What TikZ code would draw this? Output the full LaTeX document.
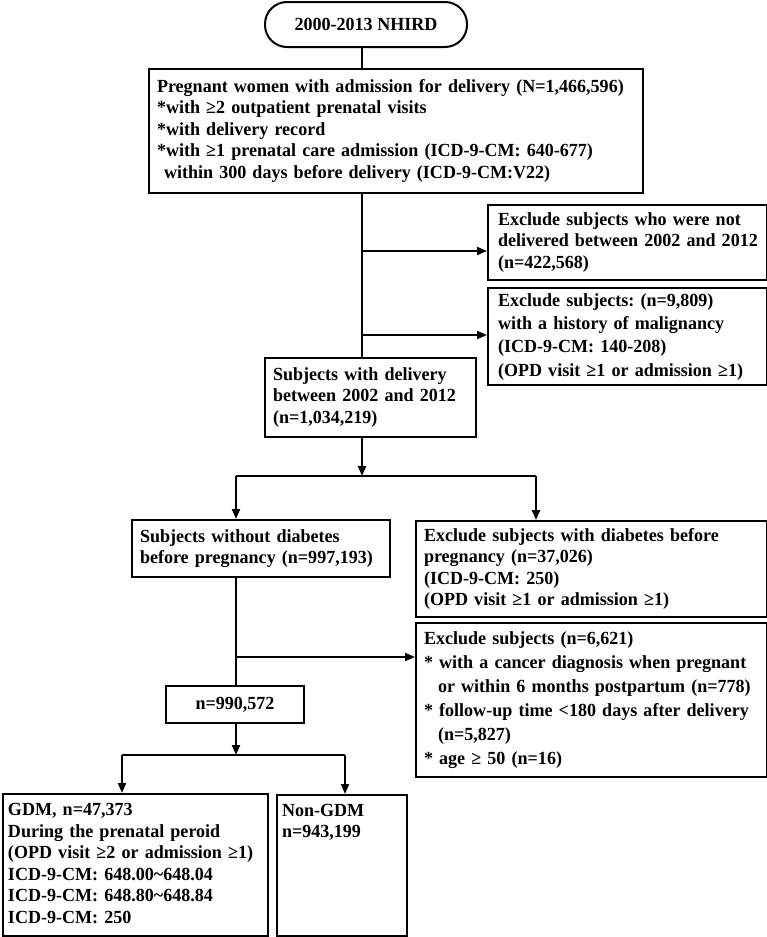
\documentclass[tikz,border=0pt]{standalone}
\usepackage{fontspec}
\setmainfont{Liberation Serif}[FakeStretch=0.975]
\usetikzlibrary{arrows.meta}
\begin{document}
\begin{tikzpicture}[x=1pt,y=-1pt,
  every node/.style={font=\fontsize{18.5}{21.5}\selectfont\bfseries\frenchspacing},
  box/.style={draw, line width=2pt, anchor=north west, inner ysep=0pt, inner xsep=8pt, align=left},
  sp24/.style={font=\fontsize{18.5}{24}\selectfont\bfseries\frenchspacing},
  sp23/.style={font=\fontsize{18.5}{23.3}\selectfont\bfseries\frenchspacing},
  arr/.style={line width=2pt, -{Triangle[length=10pt,width=8pt]}},
  ln/.style={line width=2pt}
]
\useasboundingbox (0,0) rectangle (767,937);

\node[draw, line width=2pt, rounded corners=22pt, minimum width=202pt, minimum height=45pt, inner sep=0pt] (term) at (366,24.5) {2000-2013 NHIRD};

\node[box, minimum width=494pt, minimum height=124pt, text width=478pt] (b1) at (148,68)
{\begin{tabular}{@{}l@{}}Pregnant women with admission for delivery (N=1,466,596)\\
{*}with ≥2 outpatient prenatal visits\\
{*}with delivery record\\
{*}with ≥1 prenatal care admission (ICD-9-CM: 640-677)\\
\hspace*{7pt}within 300 days before delivery (ICD-9-CM:V22)\end{tabular}};

\node[box, minimum width=279pt, minimum height=75pt, text width=259pt, inner xsep=10pt] (ex1) at (487,204)
{\begin{tabular}{@{}l@{}}Exclude subjects who were not\\
delivered between 2002 and 2012\\
(n=422,568)\end{tabular}};

\node[box, sp23, minimum width=279pt, minimum height=97pt, text width=259pt, inner xsep=10pt] (ex2) at (487,287)
{\begin{tabular}{@{}l@{}}Exclude subjects: (n=9,809)\\
with a history of malignancy\\
(ICD-9-CM: 140-208)\\
(OPD visit ≥1 or admission ≥1)\end{tabular}};

\node[box, minimum width=211pt, minimum height=79pt, text width=195pt] (b3) at (264,357)
{\begin{tabular}{@{}l@{}}Subjects with delivery\\
between 2002 and 2012\\
(n=1,034,219)\end{tabular}};

\node[box, minimum width=258pt, minimum height=57pt, text width=242pt] (b4) at (131,519)
{\begin{tabular}{@{}l@{}}Subjects without diabetes\\
before pregnancy (n=997,193)\end{tabular}};

\node[box, minimum width=351pt, minimum height=96pt, text width=335pt] (ex3) at (415,520)
{\begin{tabular}{@{}l@{}}Exclude subjects with diabetes before\\
pregnancy (n=37,026)\\
(ICD-9-CM: 250)\\
(OPD visit ≥1 or admission ≥1)\end{tabular}};

\node[box, sp24, minimum width=351pt, minimum height=154pt, text width=335pt] (ex4) at (415,622)
{\begin{tabular}{@{}l@{}}Exclude subjects (n=6,621)\\
{*} with a cancer diagnosis when pregnant\\
\hspace*{14pt}or within 6 months postpartum (n=778)\\
{*} follow-up time <180 days after delivery\\
\hspace*{14pt}(n=5,827)\\
{*} age ≥ 50 (n=16)\end{tabular}};

\node[draw, line width=2pt, minimum width=138pt, minimum height=37pt, inner sep=0pt] (b5) at (235,704.5) {n=990,572};

\node[box, minimum width=265pt, minimum height=142pt, text width=255pt, inner xsep=5pt] (gdm) at (2,793)
{\begin{tabular}{@{}l@{}}GDM, n=47,373\\
During the prenatal peroid\\
(OPD visit ≥2 or admission ≥1)\\
ICD-9-CM: 648.00\textasciitilde 648.04\\
ICD-9-CM: 648.80\textasciitilde 648.84\\
ICD-9-CM: 250\end{tabular}};

\node[box, minimum width=130pt, minimum height=141pt, text width=120pt, inner xsep=5pt] (ngdm) at (276,794)
{\begin{tabular}{@{}l@{}}Non-GDM\\
n=943,199\\
\mbox{}\\ \mbox{}\\ \mbox{}\\ \mbox{}\end{tabular}};

% connectors
\coordinate (top) at (362,47);
\draw[ln] (term.south -| top) -- (top |- b1.north);
\draw[ln] (top |- b1.south) -- (top |- b3.north);
\coordinate (j1) at (362,251);
\coordinate (j2) at (362,335);
\draw[arr] (j1) -- (j1 -| ex1.west);
\draw[arr] (j2) -- (j2 -| ex2.west);

\coordinate (sp1) at (362,476);
\coordinate (sp1l) at (236,476);
\coordinate (sp1r) at (536,476);
\draw[arr] (sp1 |- b3.south) -- (sp1);
\draw[ln] (sp1l) -- (sp1r);
\draw[arr] (sp1l) -- (sp1l |- b4.north);
\draw[arr] (sp1r) -- (sp1r |- ex3.north);

\coordinate (v2) at (236,576);
\draw[ln] (v2 |- b4.south) -- (v2 |- b5.north);
\coordinate (j3) at (236,657);
\draw[arr] (j3) -- (j3 -| ex4.west);

\coordinate (sp2) at (236,755);
\coordinate (sp2l) at (122,755);
\coordinate (sp2r) at (345,755);
\draw[arr] (sp2 |- b5.south) -- (sp2);
\draw[ln] (sp2l) -- (sp2r);
\draw[arr] (sp2l) -- (sp2l |- gdm.north);
\draw[arr] (sp2r) -- (sp2r |- ngdm.north);
\end{tikzpicture}
\end{document}
